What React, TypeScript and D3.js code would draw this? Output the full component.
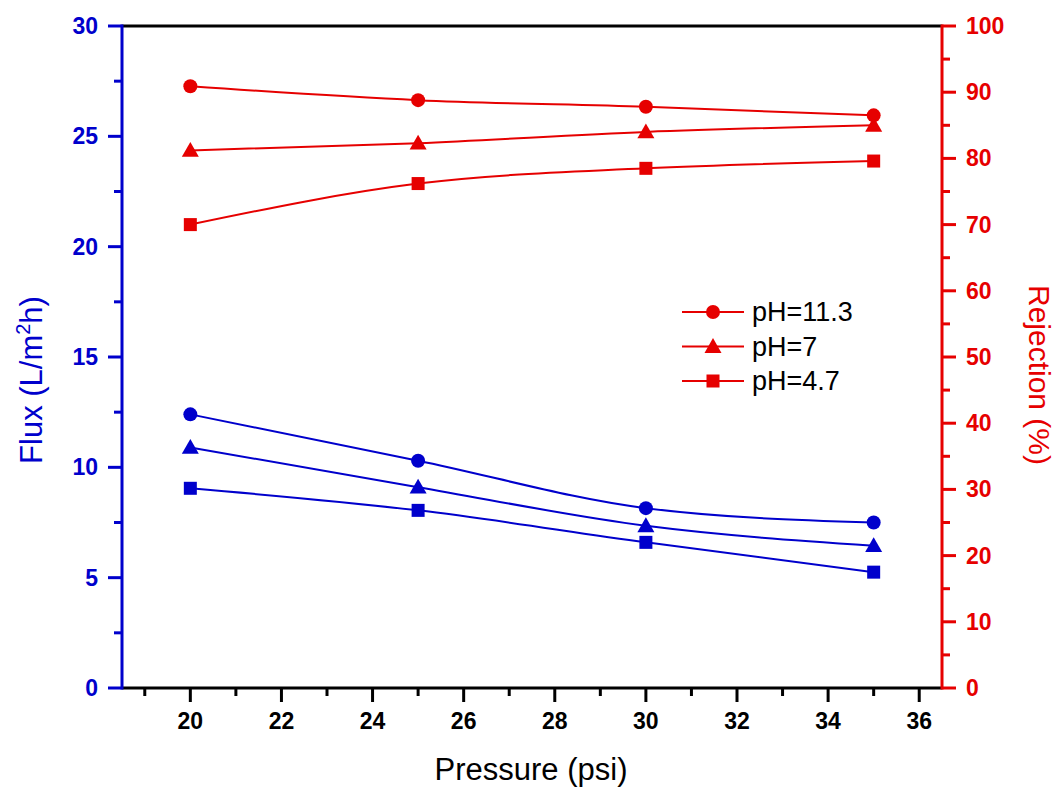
import React from "react";
import * as d3 from "d3";

const pressure = [20, 25, 30, 35];
const fluxPH113 = [12.4, 10.3, 8.15, 7.5];
const fluxPH7 = [10.9, 9.1, 7.35, 6.45];
const fluxPH47 = [9.05, 8.05, 6.6, 5.25];
const rejPH113 = [90.9, 88.8, 87.8, 86.5];
const rejPH7 = [81.2, 82.3, 84.0, 85.0];
const rejPH47 = [70.0, 76.2, 78.5, 79.6];
const legendLabels = ["pH=11.3", "pH=7", "pH=4.7"];
const xTicks = [20, 22, 24, 26, 28, 30, 32, 34, 36];
const xMinor = [19, 21, 23, 25, 27, 29, 31, 33, 35];
const yLeftTicks = [0, 5, 10, 15, 20, 25, 30];
const yLeftMinor = [2.5, 7.5, 12.5, 17.5, 22.5, 27.5];
const yRightTicks = [0, 10, 20, 30, 40, 50, 60, 70, 80, 90, 100];
const yRightMinor = [5, 15, 25, 35, 45, 55, 65, 75, 85, 95];

const BLUE = "#0000cc";
const RED = "#e60000";
const FONT = "Liberation Sans, Arial, sans-serif";

const L = 122, R = 942, T = 26, B = 688;

function Marker({ shape, x, y, color }: { shape: string; x: number; y: number; color: string }) {
  if (shape === "circle") return <circle cx={x} cy={y} r={7} fill={color} />;
  if (shape === "triangle") {
    const s = 8.5;
    return <path d={`M${x},${y - s}L${x + s},${y + s * 0.75}L${x - s},${y + s * 0.75}Z`} fill={color} />;
  }
  return <rect x={x - 6.5} y={y - 6.5} width={13} height={13} fill={color} />;
}

export default function App() {
  const x = d3.scaleLinear().domain([18.5, 36.5]).range([L, R]);
  const yL = d3.scaleLinear().domain([0, 30]).range([B, T]);
  const yR = d3.scaleLinear().domain([0, 100]).range([B, T]);
  const shapes = ["circle", "triangle", "square"];
  const fluxSeries = [fluxPH113, fluxPH7, fluxPH47];
  const rejSeries = [rejPH113, rejPH7, rejPH47];
  const lineL = d3.line<number>().x((_, i) => x(pressure[i])).y((d) => yL(d)).curve(d3.curveMonotoneX);
  const lineR = d3.line<number>().x((_, i) => x(pressure[i])).y((d) => yR(d)).curve(d3.curveMonotoneX);

  return (
    <svg width={1055} height={789} style={{ position: "absolute", left: 0, top: 0, background: "#fff" }} fontFamily={FONT}>
      {fluxSeries.map((s, k) => (
        <g key={"f" + k}>
          <path d={lineL(s) || ""} fill="none" stroke={BLUE} strokeWidth={2} />
          {s.map((v, i) => <Marker key={i} shape={shapes[k]} x={x(pressure[i])} y={yL(v)} color={BLUE} />)}
        </g>
      ))}
      {rejSeries.map((s, k) => (
        <g key={"r" + k}>
          <path d={lineR(s) || ""} fill="none" stroke={RED} strokeWidth={2} />
          {s.map((v, i) => <Marker key={i} shape={shapes[k]} x={x(pressure[i])} y={yR(v)} color={RED} />)}
        </g>
      ))}

      <line x1={L} x2={R} y1={T} y2={T} stroke="#000" strokeWidth={3} />
      <line x1={L} x2={R} y1={B} y2={B} stroke="#000" strokeWidth={3} />
      {xTicks.map((t) => (
        <g key={"xt" + t}>
          <line x1={x(t)} x2={x(t)} y1={B} y2={B + 14} stroke="#000" strokeWidth={3} />
          <text x={x(t)} y={B + 41} textAnchor="middle" fontSize={23} fontWeight="bold" fill="#000">{t}</text>
        </g>
      ))}
      {xMinor.map((t) => (
        <line key={"xm" + t} x1={x(t)} x2={x(t)} y1={B} y2={B + 8} stroke="#000" strokeWidth={3} />
      ))}

      <line x1={L} x2={L} y1={T - 1.5} y2={B + 1.5} stroke={BLUE} strokeWidth={3} />
      {yLeftTicks.map((t) => (
        <g key={"yl" + t}>
          <line x1={L - 14} x2={L} y1={yL(t)} y2={yL(t)} stroke={BLUE} strokeWidth={3} />
          <text x={L - 24} y={yL(t) + 8} textAnchor="end" fontSize={23} fontWeight="bold" fill={BLUE}>{t}</text>
        </g>
      ))}
      {yLeftMinor.map((t) => (
        <line key={"ylm" + t} x1={L - 8} x2={L} y1={yL(t)} y2={yL(t)} stroke={BLUE} strokeWidth={3} />
      ))}

      <line x1={R} x2={R} y1={T - 1.5} y2={B + 1.5} stroke={RED} strokeWidth={3} />
      {yRightTicks.map((t) => (
        <g key={"yr" + t}>
          <line x1={R} x2={R + 14} y1={yR(t)} y2={yR(t)} stroke={RED} strokeWidth={3} />
          <text x={R + 24} y={yR(t) + 8} textAnchor="start" fontSize={23} fontWeight="bold" fill={RED}>{t}</text>
        </g>
      ))}
      {yRightMinor.map((t) => (
        <line key={"yrm" + t} x1={R} x2={R + 8} y1={yR(t)} y2={yR(t)} stroke={RED} strokeWidth={3} />
      ))}

      <text transform="translate(42,380) rotate(-90)" textAnchor="middle" fontSize={31} fill={BLUE}>
        Flux (L/m<tspan fontSize={20} dy={-12}>2</tspan><tspan dy={12}>h)</tspan>
      </text>
      <text transform="translate(1029,375) rotate(90)" textAnchor="middle" fontSize={30} fill={RED}>
        Rejection (%)
      </text>
      <text x={531} y={780} textAnchor="middle" fontSize={31} fill="#000">Pressure (psi)</text>

      {legendLabels.map((lab, k) => {
        const ly = 312 + k * 34.5;
        return (
          <g key={"lg" + k}>
            <line x1={682} x2={744} y1={ly} y2={ly} stroke={RED} strokeWidth={2} />
            <Marker shape={shapes[k]} x={713} y={ly} color={RED} />
            <text x={752} y={ly + 9} fontSize={27} fill="#000">{lab}</text>
          </g>
        );
      })}
    </svg>
  );
}
